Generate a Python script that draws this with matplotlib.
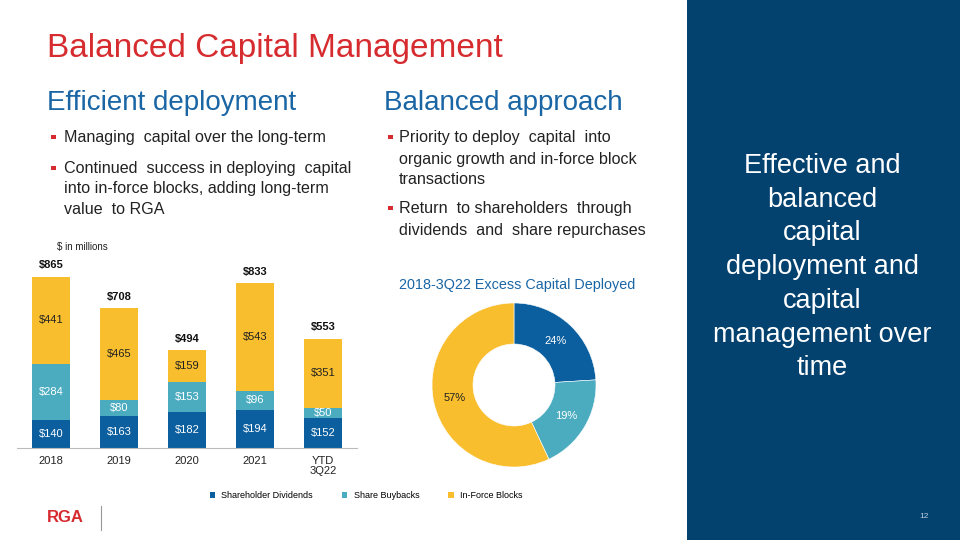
import matplotlib
matplotlib.use("Agg")
import math
import matplotlib.pyplot as plt
from matplotlib.patches import Rectangle, Patch
from matplotlib.lines import Line2D

plt.rcParams['font.family'] = ['Liberation Sans', 'DejaVu Sans']

# ---- data ----
years = ["2018", "2019", "2020", "2021", "YTD\n3Q22"]
dividends = [140, 163, 182, 194, 152]
buybacks = [284, 80, 153, 96, 50]
inforce = [441, 465, 159, 543, 351]
totals = [865, 708, 494, 833, 553]
series_names = ["Shareholder Dividends", "Share Buybacks", "In-Force Blocks"]
pie_shares = [24, 19, 57]

C_BLUE = "#0B5F9E"
C_TEAL = "#4BACC0"
C_YEL = "#F8BE2E"
C_NAVY = "#03416F"
C_RED = "#D62B2F"
C_HEAD = "#1A66A5"

W, H = 960, 540
fig = plt.figure(figsize=(9.6, 5.4), dpi=100)
fig.patch.set_facecolor("white")

def P(x, y):
    return (x / W, 1 - y / H)

# right panel
fig.patches.append(Rectangle(P(687, 540), (W - 687) / W, 1, transform=fig.transFigure,
                             facecolor=C_NAVY, edgecolor="none", zorder=0))

# titles
fig.text(*P(47, 48), "Balanced Capital Management", color=C_RED, fontsize=24,
         va="center", ha="left")
fig.text(*P(47, 103), "Efficient deployment", color=C_HEAD, fontsize=20,
         va="center", ha="left")
fig.text(*P(384, 103), "Balanced approach", color=C_HEAD, fontsize=20,
         va="center", ha="left")

def bullet(x, y):
    fig.patches.append(Rectangle(P(x, y + 2), 4.5 / W, 4.5 / H, transform=fig.transFigure,
                                 facecolor=C_RED, edgecolor="none"))

BFS = 11.6
left_lines = [(137, "Managing  capital over the long-term", True),
              (168, "Continued  success in deploying  capital", True),
              (189, "into in-force blocks, adding long-term", False),
              (210, "value  to RGA", False)]
for y, t, b in left_lines:
    if b:
        bullet(51, y)
    fig.text(*P(64, y), t, fontsize=BFS, color="#222222", va="center", ha="left")

right_lines = [(137, "Priority to deploy  capital  into", True),
               (159, "organic growth and in-force block", False),
               (180, "transactions", False),
               (208, "Return  to shareholders  through", True),
               (230, "dividends  and  share repurchases", False)]
for y, t, b in right_lines:
    if b:
        bullet(388, y)
    fig.text(*P(399, y), t, fontsize=BFS, color="#222222", va="center", ha="left")

# right panel text
panel_lines = ["Effective and", "balanced", "capital", "deployment and",
               "capital", "management over", "time"]
for i, t in enumerate(panel_lines):
    fig.text(*P(822, 166 + i * 33.7), t, fontsize=19.5, color="white",
             ha="center", va="center")

fig.text(*P(924, 517), "12", fontsize=6, color="#BFD0E0", ha="center", va="center")

# logo
fig.text(*P(47, 517), "RGA", fontsize=12, color=C_RED, fontweight="bold",
         ha="left", va="center")
fig.lines.append(Line2D([101 / W, 101 / W], [1 - 506 / H, 1 - 530 / H],
                        transform=fig.transFigure, color="#999999", lw=0.8))

# ---- bar chart ----
ax = fig.add_axes([17 / W, 92 / H, 340 / W, 198 / H])
x = list(range(len(years)))
bw = 0.545
ax.bar(x, dividends, bw, color=C_BLUE, label=series_names[0])
ax.bar(x, buybacks, bw, bottom=dividends, color=C_TEAL, label=series_names[1])
bot2 = [a + b for a, b in zip(dividends, buybacks)]
ax.bar(x, inforce, bw, bottom=bot2, color=C_YEL, label=series_names[2])
LFS = 8
for i in x:
    ax.text(i, dividends[i] / 2, f"${dividends[i]}", color="white", fontsize=LFS,
            ha="center", va="center")
    ax.text(i, dividends[i] + buybacks[i] / 2, f"${buybacks[i]}", color="white",
            fontsize=LFS, ha="center", va="center")
    ax.text(i, bot2[i] + inforce[i] / 2, f"${inforce[i]}", color="#222222",
            fontsize=LFS, ha="center", va="center")
    ax.annotate(f"${totals[i]}", (i, totals[i]), xytext=(0, 4.5),
                textcoords="offset points", ha="center", va="bottom",
                fontsize=LFS, fontweight="bold", color="#111111")
ax.set_xlim(-0.5, 4.5)
ax.set_ylim(0, 1000)
ax.set_xticks(x)
ax.set_xticklabels(years, fontsize=8, color="#222222", linespacing=1.05)
ax.tick_params(axis="x", length=0, pad=5.5)
ax.set_yticks([])
for s in ["top", "right", "left"]:
    ax.spines[s].set_visible(False)
ax.spines["bottom"].set_color("#BBBBBB")
ax.spines["bottom"].set_linewidth(0.8)
ax.patch.set_alpha(0)

fig.text(*P(57, 247), "$ in millions", fontsize=7, color="#222222", ha="left", va="center")

handles = [Patch(facecolor=c, edgecolor="none") for c in [C_BLUE, C_TEAL, C_YEL]]
fig.legend(handles, series_names, loc="center", bbox_to_anchor=P(366, 496), ncol=3,
           frameon=False, fontsize=6.5, handlelength=0.6, handleheight=0.6,
           handletextpad=0.7, columnspacing=3.2)

# ---- donut ----
axp = fig.add_axes([432 / W, 73 / H, 164 / W, 164 / H])
axp.pie(pie_shares, colors=[C_BLUE, C_TEAL, C_YEL], startangle=90,
        counterclock=False, radius=1,
        wedgeprops=dict(width=0.5, edgecolor="white", linewidth=0.4))
cum = 0
for v, col in zip(pie_shares, ["white", "white", "#222222"]):
    mid = 90 - (cum + v / 2) * 3.6
    cum += v
    r = 0.74
    axp.text(r * math.cos(math.radians(mid)), r * math.sin(math.radians(mid)),
             f"{v}%", color=col, fontsize=8, ha="center", va="center")
axp.set_xlim(-1, 1)
axp.set_ylim(-1, 1)
axp.set_aspect("equal")
axp.axis("off")

fig.text(*P(517, 285), "2018-3Q22 Excess Capital Deployed", fontsize=10.4,
         color=C_HEAD, ha="center", va="center")

fig.savefig("out.png", dpi=100)
